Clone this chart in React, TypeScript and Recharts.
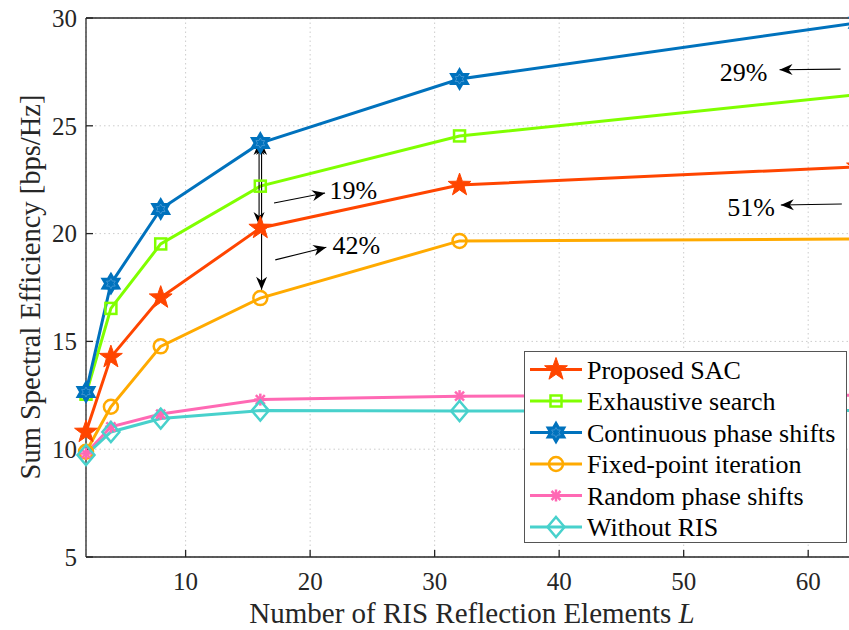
import {
  LineChart,
  Line,
  XAxis,
  YAxis,
  CartesianGrid,
  Legend,
  ReferenceLine,
  ReferenceDot,
} from 'recharts';

const lValues = [2, 4, 8, 16, 32, 64];
const proposedSac = [10.8, 14.27, 17.03, 20.26, 22.25, 23.1];
const exhaustiveSearch = [12.55, 16.53, 19.52, 22.2, 24.53, 26.45];
const continuousPhase = [12.65, 17.68, 21.14, 24.2, 27.17, 29.78];
const fixedPoint = [9.88, 11.97, 14.77, 17.01, 19.66, 19.75];
const randomPhase = [9.8, 11.04, 11.63, 12.3, 12.46, 12.5];
const withoutRis = [9.73, 10.8, 11.42, 11.79, 11.77, 11.8];

const xTicks = [10, 20, 30, 40, 50, 60];
const yTicks = [5, 10, 15, 20, 25, 30];

// gain annotations, data coordinates
const doubleArrows = [
  { x: 15.9, from: 24.25, to: 20.4 },
  { x: 16.1, from: 24.25, to: 17.4 },
];
const pointerArrows = [
  { from: [17.1, 21.42], to: [21.2, 21.88] },
  { from: [17.2, 18.78], to: [21.3, 19.37] },
  { from: [62.6, 27.63], to: [57.7, 27.6] },
  { from: [62.7, 21.37], to: [57.8, 21.33] },
];
const gainLabels = [
  { x: 21.55, y: 22.02, text: '19%' },
  { x: 21.8, y: 19.47, text: '42%' },
  { x: 52.9, y: 27.5, text: '29%' },
  { x: 53.5, y: 21.23, text: '51%' },
];

const FONT = '"Liberation Serif", "Times New Roman", serif';
const AXIS = '#262626';

const seriesList = [
  { key: 'sac', name: 'Proposed SAC', color: '#FF4500', marker: 'star', values: proposedSac },
  { key: 'exh', name: 'Exhaustive search', color: '#80FF00', marker: 'square', values: exhaustiveSearch },
  { key: 'cont', name: 'Continuous phase shifts', color: '#0072BD', marker: 'hexagram', values: continuousPhase },
  { key: 'fp', name: 'Fixed-point iteration', color: '#FFAA00', marker: 'circle', values: fixedPoint },
  { key: 'rand', name: 'Random phase shifts', color: '#FF69B4', marker: 'asterisk', values: randomPhase },
  { key: 'none', name: 'Without RIS', color: '#48D1CC', marker: 'diamond', values: withoutRis },
];

const rows = lValues.map((L, i) => {
  const row: Record<string, number> = { L };
  seriesList.forEach((s) => {
    row[s.key] = s.values[i];
  });
  return row;
});

function starPoints(cx: number, cy: number, n: number, R: number, r: number) {
  const pts: string[] = [];
  for (let i = 0; i < n * 2; i++) {
    const a = -Math.PI / 2 + (i * Math.PI) / n;
    const rad = i % 2 === 0 ? R : r;
    pts.push(`${cx + rad * Math.cos(a)},${cy + rad * Math.sin(a)}`);
  }
  return pts.join(' ');
}

function Marker({ kind, cx, cy, color }: { kind: string; cx: number; cy: number; color: string }) {
  if (cx == null || cy == null) return null;
  switch (kind) {
    case 'star':
      return <polygon points={starPoints(cx, cy, 5, 12, 4.8)} fill={color} stroke={color} strokeWidth={1} />;
    case 'square':
      return <rect x={cx - 5.5} y={cy - 5.5} width={11} height={11} fill="none" stroke={color} strokeWidth={2.5} />;
    case 'hexagram':
      return (
        <g>
          <polygon points={starPoints(cx, cy, 6, 10, 5.8)} fill={color} stroke={color} strokeWidth={2} />
          <polygon points={starPoints(cx, cy, 6, 5, 2.9)} fill="none" stroke="#4a9ad6" strokeWidth={0.8} />
        </g>
      );
    case 'circle':
      return <circle cx={cx} cy={cy} r={7} fill="none" stroke={color} strokeWidth={2.5} />;
    case 'asterisk':
      return (
        <g stroke={color} strokeWidth={2.5}>
          <line x1={cx - 6} y1={cy} x2={cx + 6} y2={cy} />
          <line x1={cx} y1={cy - 6} x2={cx} y2={cy + 6} />
          <line x1={cx - 4.5} y1={cy - 4.5} x2={cx + 4.5} y2={cy + 4.5} />
          <line x1={cx - 4.5} y1={cy + 4.5} x2={cx + 4.5} y2={cy - 4.5} />
        </g>
      );
    case 'diamond':
      return (
        <polygon
          points={`${cx},${cy - 10} ${cx + 8.5},${cy} ${cx},${cy + 10} ${cx - 8.5},${cy}`}
          fill="none"
          stroke={color}
          strokeWidth={2.5}
        />
      );
    default:
      return null;
  }
}

function headPath(tx: number, ty: number, ux: number, uy: number) {
  const L = 13;
  const W = 5.5;
  const nx = -uy;
  const ny = ux;
  const bx = tx - L * ux;
  const by = ty - L * uy;
  const mx = tx - (L - 4) * ux;
  const my = ty - (L - 4) * uy;
  return `M${tx},${ty} L${bx + W * nx},${by + W * ny} L${mx},${my} L${bx - W * nx},${by - W * ny} Z`;
}

const arrowShape = (both: boolean) => (p: any) => {
  const { x1, y1, x2, y2 } = p;
  const len = Math.hypot(x2 - x1, y2 - y1) || 1;
  const ux = (x2 - x1) / len;
  const uy = (y2 - y1) / len;
  return (
    <g>
      <line x1={x1} y1={y1} x2={x2} y2={y2} stroke="#000" strokeWidth={1.1} />
      <path d={headPath(x2, y2, ux, uy)} fill="#000" />
      {both && <path d={headPath(x1, y1, -ux, -uy)} fill="#000" />}
    </g>
  );
};

function XTitle() {
  return (
    <text x={472} y={623} textAnchor="middle" fontFamily={FONT} fontSize={29} fill={AXIS}>
      Number of RIS Reflection Elements <tspan fontStyle="italic">L</tspan>
    </text>
  );
}

function YTitle() {
  return (
    <text
      x={0}
      y={0}
      transform="translate(40,287) rotate(-90)"
      textAnchor="middle"
      fontFamily={FONT}
      fontSize={28.5}
      fill={AXIS}
    >
      Sum Spectral Efficiency [bps/Hz]
    </text>
  );
}

function LegendBox() {
  return (
    <svg width={324} height={193} style={{ display: 'block' }}>
      <rect x={0.5} y={0.5} width={322} height={191} fill="#fff" stroke="#555" strokeWidth={1} />
      {seriesList.map((s, i) => {
        const cy = 18.5 + i * 31.5;
        return (
          <g key={s.key}>
            <line x1={6} y1={cy} x2={58} y2={cy} stroke={s.color} strokeWidth={3} />
            <Marker kind={s.marker} cx={32} cy={cy} color={s.color} />
            <text x={63} y={cy} dy="0.35em" fontFamily={FONT} fontSize={26} fill="#000">
              {s.name}
            </text>
          </g>
        );
      })}
    </svg>
  );
}

export default function App() {
  const tickStyle = { fontFamily: FONT, fontSize: 25, fill: AXIS };
  return (
    <div
      style={{
        position: 'absolute',
        left: 0,
        top: 0,
        width: 849,
        height: 630,
        overflow: 'hidden',
        background: '#fff',
      }}
    >
      <LineChart width={862} height={630} data={rows} margin={{ top: 0, right: 4, bottom: 0, left: 0 }}>
        <CartesianGrid stroke="#cccccc" strokeDasharray="1.5 3" strokeWidth={1} />
        <XAxis
          dataKey="L"
          type="number"
          domain={[2, 64]}
          ticks={xTicks}
          height={73}
          tickSize={-7}
          tickMargin={22}
          tick={tickStyle}
          axisLine={{ stroke: AXIS, strokeWidth: 1.3 }}
          tickLine={{ stroke: AXIS, strokeWidth: 1.3 }}
          label={<XTitle />}
        />
        <XAxis
          xAxisId="top"
          dataKey="L"
          type="number"
          orientation="top"
          domain={[2, 64]}
          ticks={xTicks}
          height={18}
          tickSize={-7}
          tick={false}
          axisLine={{ stroke: AXIS, strokeWidth: 1.3 }}
          tickLine={{ stroke: AXIS, strokeWidth: 1.3 }}
        />
        <YAxis
          type="number"
          domain={[5, 30]}
          ticks={yTicks}
          width={86}
          tickSize={-7}
          tickMargin={16}
          tick={tickStyle}
          axisLine={{ stroke: AXIS, strokeWidth: 1.3 }}
          tickLine={{ stroke: AXIS, strokeWidth: 1.3 }}
          label={<YTitle />}
        />
        {seriesList.map((s) => (
          <Line
            key={s.key}
            dataKey={s.key}
            name={s.name}
            stroke={s.color}
            strokeWidth={3}
            isAnimationActive={false}
            activeDot={false}
            dot={(p: any) => <Marker key={`${s.key}-${p.index}`} kind={s.marker} cx={p.cx} cy={p.cy} color={s.color} />}
          />
        ))}
        {doubleArrows.map((a, i) => (
          <ReferenceLine
            key={`da${i}`}
            segment={[
              { x: a.x, y: a.from },
              { x: a.x, y: a.to },
            ]}
            shape={arrowShape(true)}
          />
        ))}
        {pointerArrows.map((a, i) => (
          <ReferenceLine
            key={`pa${i}`}
            segment={[
              { x: a.from[0], y: a.from[1] },
              { x: a.to[0], y: a.to[1] },
            ]}
            shape={arrowShape(false)}
          />
        ))}
        {gainLabels.map((g, i) => (
          <ReferenceDot
            key={`gl${i}`}
            x={g.x}
            y={g.y}
            r={0}
            shape={(p: any) => (
              <text x={p.cx} y={p.cy} dy="0.35em" fontFamily={FONT} fontSize={26} fill="#000">
                {g.text}
              </text>
            )}
          />
        ))}
        <Legend
          layout="vertical"
          align="center"
          verticalAlign="middle"
          wrapperStyle={{ left: 524, top: 351, width: 324, height: 193 }}
          content={() => <LegendBox />}
        />
      </LineChart>
    </div>
  );
}
